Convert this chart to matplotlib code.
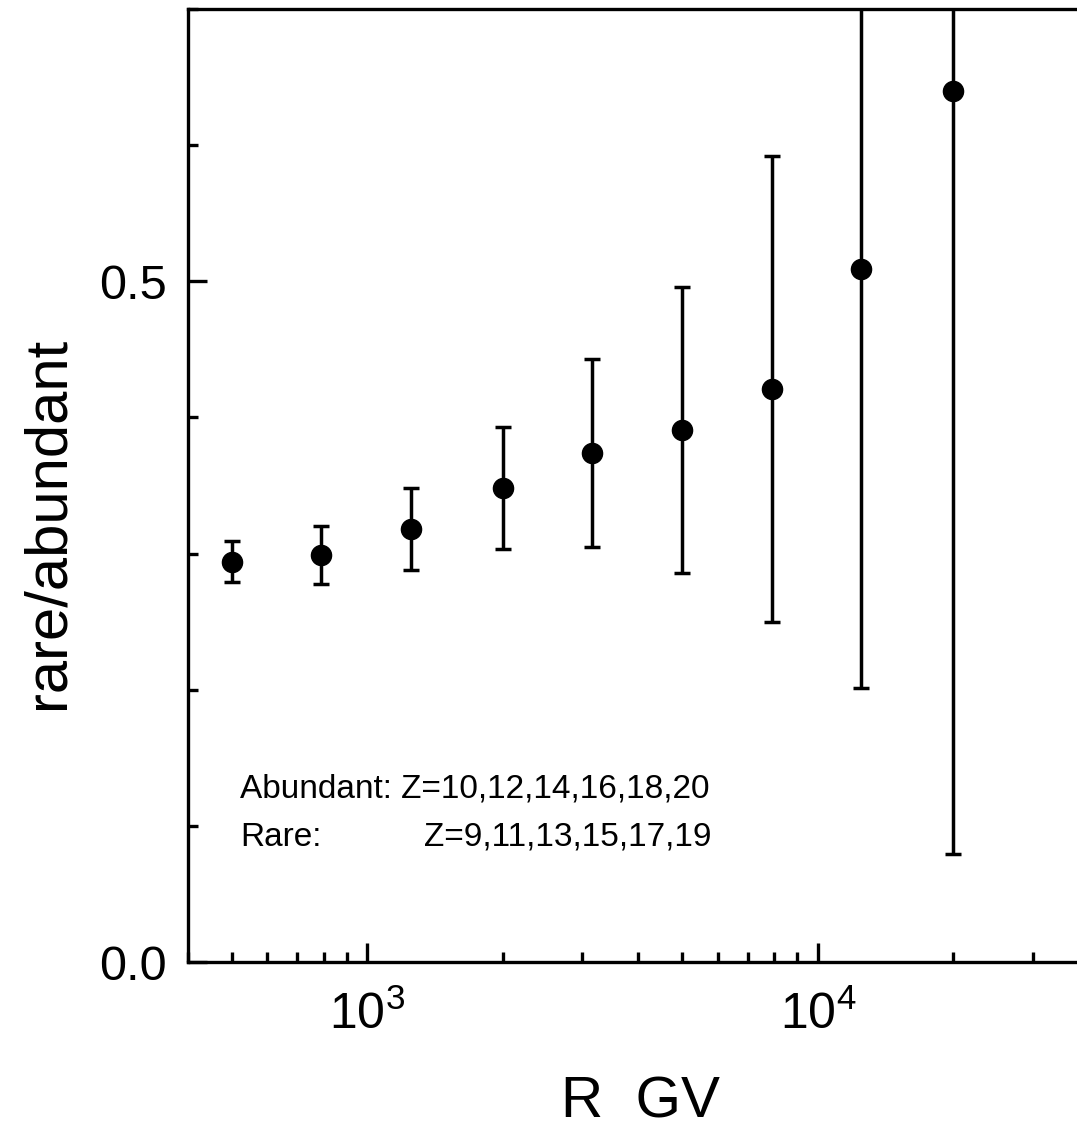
import numpy as np
import matplotlib
matplotlib.use("Agg")
import matplotlib.pyplot as plt
from matplotlib.ticker import LogLocator, MultipleLocator, FixedLocator, FixedFormatter

plt.rcParams['font.family'] = ['Liberation Sans', 'DejaVu Sans']
plt.rcParams['mathtext.fontset'] = 'custom'
plt.rcParams['mathtext.rm'] = 'Liberation Sans'
plt.rcParams['mathtext.it'] = 'Liberation Sans'

# rigidity (GV), ratio rare/abundant and symmetric errors
rigidity = [500, 790, 1250, 2000, 3150, 5000, 7900, 12500, 20000]
ratio = [0.294, 0.299, 0.318, 0.348, 0.374, 0.391, 0.421, 0.509, 0.640]
ratio_err = [0.015, 0.021, 0.030, 0.045, 0.069, 0.105, 0.171, 0.308, 0.561]

fig = plt.figure(figsize=(10.77, 11.30), dpi=100)
# right spine lies outside the picture, as in the original
ax = fig.add_axes([188/1077, 1 - 962/1130, 901/1077, 953/1130])

ax.errorbar(rigidity, ratio, yerr=ratio_err, fmt='o', color='black',
            markersize=14.5, elinewidth=2.5, capsize=5.5, capthick=2.5)

ax.set_xscale('log')
ax.set_xlim(400, 40000)
ax.set_ylim(0, 0.7)

ax.xaxis.set_major_locator(LogLocator(base=10, numticks=10))
ax.xaxis.set_minor_locator(LogLocator(base=10, subs=np.arange(2, 10), numticks=20))
ax.yaxis.set_major_locator(FixedLocator([0.0, 0.5]))
ax.yaxis.set_major_formatter(FixedFormatter(['0.0', '0.5']))
ax.yaxis.set_minor_locator(MultipleLocator(0.1))

for s in ax.spines.values():
    s.set_linewidth(2.4)
ax.tick_params(which='both', direction='in', width=2.4)
ax.tick_params(which='major', length=14)
ax.tick_params(which='minor', length=7)
ax.tick_params(axis='y', which='major', pad=15, labelsize=35)
ax.tick_params(axis='x', which='major', pad=21, labelsize=36)
ax.tick_params(which='minor', labelbottom=False, labelleft=False)

fig.text(48/1077, 1 - 523/1130, 'rare/abundant', rotation=90,
         ha='center', va='center', fontsize=43)
fig.text(640/1077, 1 - 1103/1130, 'R  GV', ha='center', va='center', fontsize=42)

fig.text(240/1077, 1 - 798/1130, 'Abundant: Z=10,12,14,16,18,20', fontsize=24)
fig.text(240/1077, 1 - 846/1130, 'Rare:', fontsize=24)
fig.text(424/1077, 1 - 846/1130, 'Z=9,11,13,15,17,19', fontsize=24)

fig.savefig('out.png', dpi=100)
